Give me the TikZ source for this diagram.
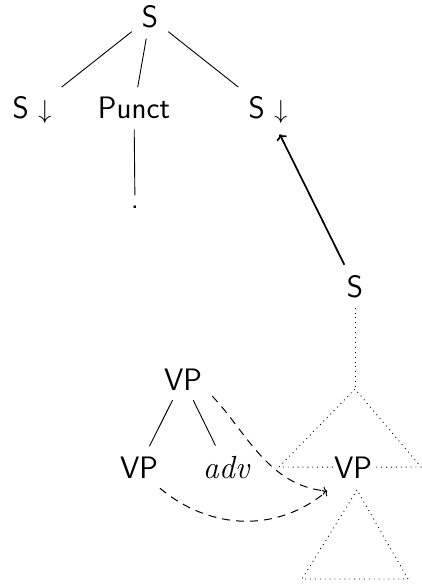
\RequirePackage{fix-cm}
\documentclass[tikz,border=0pt]{standalone}
\usepackage{fontspec}
\usetikzlibrary{arrows.meta}

\newcommand{\subdown}{{\fontsize{26}{30}\selectfont$\downarrow$}}

\begin{document}
\begin{tikzpicture}[>=To,x=1pt,y=-1pt,
    font=\sffamily\fontsize{31}{37}\selectfont,
    lbl/.style={anchor=base,inner sep=10pt},
    branch/.style={line width=0.9pt},
    subst/.style={->,line width=1.7pt},
    adjoin/.style={->,line width=1pt,dash pattern=on 8pt off 6pt},
    spine/.style={line width=0.9pt,dash pattern=on 0.9pt off 4pt}]
\useasboundingbox (0,0) rectangle (422,588);
% initial tree: S over S, Punct, S; pixel coordinates, y grows downwards
\node[lbl] (Sroot) at (150,28) {S};
\node[lbl] (Sleft) at (32,119) {S \subdown};
\node[lbl] (Punct) at (134,119) {Punct};
\node[lbl] (Sright) at (268,119) {S \subdown};
\node[lbl] (dot) at (135,208) {.};
\draw[branch] (Sroot) -- (Sleft);
\draw[branch] (Sroot) -- (Punct);
\draw[branch] (Sroot) -- (Sright);
\draw[branch] (Punct) -- (dot);
% auxiliary tree VP over VP, adv
\node[lbl] (VPtop) at (183,390) {VP};
\node[lbl] (VPleft) at (139,478) {VP};
\node[lbl] (adv) at (226,478) {\rmfamily\itshape\fontsize{32}{37}\selectfont adv};
\draw[branch] (VPtop) -- (VPleft);
\draw[branch] (VPtop) -- (adv);
% derived S with the VP foot, sketched as dotted triangles
\node[lbl] (Smid) at (355,297) {S};
\node[lbl,inner sep=1pt] (VPfoot) at (353,478) {VP};
\coordinate (upTop) at (355,389);
\coordinate (upLeft) at (279,467);
\coordinate (upRight) at (421,467);
\coordinate (lowTop) at (357,490);
\coordinate (lowLeft) at (302,579);
\coordinate (lowRight) at (408,579);
\coordinate (target) at (327,491);
\draw[spine] (Smid) -- (upTop);
\draw[spine] (VPfoot) -- (upLeft) -- (upTop) -- (upRight) -- (VPfoot);
\draw[spine] (lowTop) -- (lowLeft) -- (lowRight) -- cycle;
% substitution and adjunction arrows
\draw[subst] (Smid) -- (Sright);
\draw[adjoin] (VPtop.-30) .. controls (245,430) and (268,486) .. (target);
\draw[adjoin] (VPleft.-45) to[out=-40,in=-140] (target);
\end{tikzpicture}
\end{document}
